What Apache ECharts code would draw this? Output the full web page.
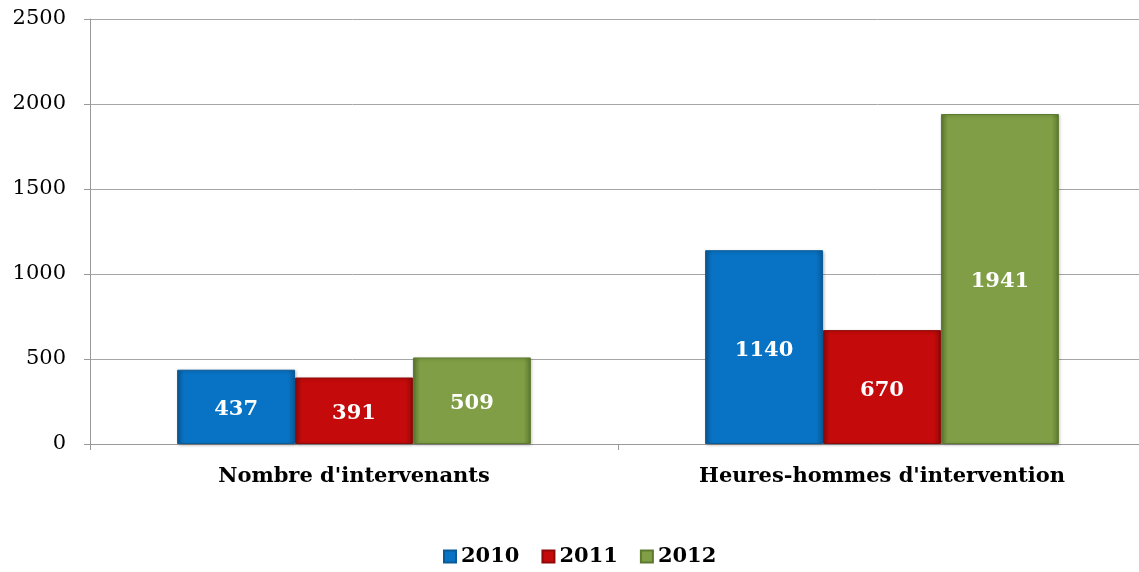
<!DOCTYPE html>
<html>
<head>
<meta charset="utf-8">
<script src="https://cdn.jsdelivr.net/npm/echarts@6/dist/echarts.min.js"></script>
<style>
html, body { margin: 0; padding: 0; background: #fff; }
#main { width: 1139px; height: 572px; }
</style>
</head>
<body>
<div id="main"></div>
<script>
var categories = ["Nombre d'intervenants", "Heures-hommes d'intervention"];
var years = ['2010', '2011', '2012'];
var values2010 = [437, 1140];
var values2011 = [391, 670];
var values2012 = [509, 1941];
var yTicks = [0, 500, 1000, 1500, 2000, 2500];

var colors = ['#0873C4', '#C40A0A', '#7F9E45'];
var edges = ['#0A5A98', '#8E0A0A', '#5E7A30'];
var serif = '"DejaVu Serif", "Liberation Serif", serif';

var myChart = echarts.init(document.getElementById('main'));

//柱子 带一点斜面效果
function barSeries(name, data, idx) {
    return {
        name: name,
        type: 'bar',
        data: data,
        barGap: 0,
        barCategoryGap: '33%',
        itemStyle: {
            color: new echarts.graphic.LinearGradient(0, 0, 1, 0, [
                { offset: 0, color: edges[idx] },
                { offset: 0.06, color: colors[idx] },
                { offset: 0.94, color: colors[idx] },
                { offset: 1, color: edges[idx] }
            ]),
            borderColor: edges[idx],
            borderWidth: 1,
            shadowColor: 'rgba(0,0,0,0.25)',
            shadowBlur: 3,
            shadowOffsetX: 1,
            shadowOffsetY: 1
        },
        label: {
            show: true,
            position: 'inside',
            offset: [0, 3],
            color: '#fff',
            fontFamily: serif,
            fontWeight: 'bold',
            fontSize: 21
        }
    };
}

var option = {
    backgroundColor: '#fff',
    color: colors,
    animation: false,
    grid: {
        left: 90,
        top: 19,
        right: -7,
        bottom: 128,
        outerBoundsMode: 'none',
        containLabel: false
    },
    legend: {
        data: years,
        bottom: 0,
        left: 438,
        itemWidth: 12,
        itemHeight: 12,
        itemGap: 22,
        icon: 'rect',
        textStyle: {
            fontFamily: serif,
            fontWeight: 'bold',
            fontSize: 21,
            color: '#000'
        }
    },
    xAxis: {
        type: 'category',
        data: categories,
        axisLine: { lineStyle: { color: '#999' } },
        axisTick: { show: true, length: 6, lineStyle: { color: '#999' } },
        axisLabel: {
            margin: 22,
            fontFamily: serif,
            fontWeight: 'bold',
            fontSize: 21,
            color: '#000'
        }
    },
    yAxis: {
        type: 'value',
        min: yTicks[0],
        max: yTicks[yTicks.length - 1],
        interval: 500,
        axisLine: { show: true, lineStyle: { color: '#999' } },
        axisTick: { show: true, inside: false, length: 6, lineStyle: { color: '#999' } },
        splitLine: { lineStyle: { color: '#a6a6a6' } },
        axisLabel: {
            margin: 24,
            fontFamily: serif,
            fontSize: 21,
            color: '#000',
            formatter: function (v) { return String(v); }
        }
    },
    series: [
        barSeries(years[0], values2010, 0),
        barSeries(years[1], values2011, 1),
        barSeries(years[2], values2012, 2)
    ]
};
myChart.setOption(option);
</script>
</body>
</html>
